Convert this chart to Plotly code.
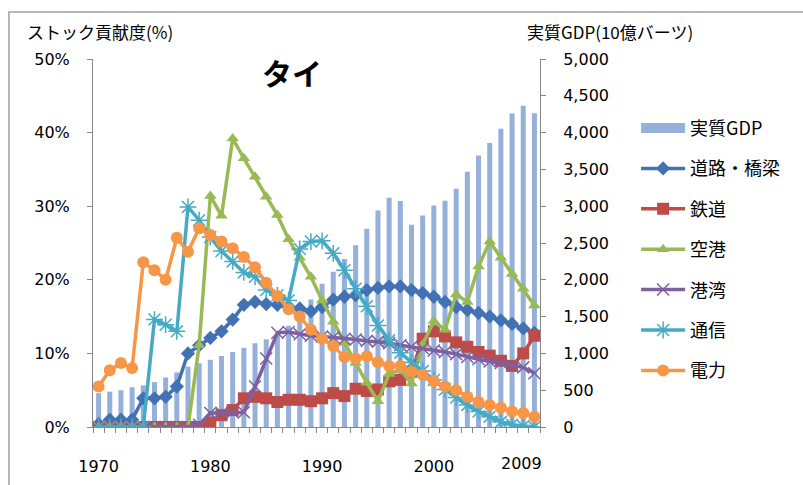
import plotly.graph_objects as go

years = list(range(1970, 2010))

gdp = [460, 480, 500, 540, 565, 610, 673, 741, 820, 866,
       913, 965, 1019, 1076, 1138, 1191, 1257, 1376, 1560, 1732,
       1945, 2111, 2283, 2471, 2693, 2941, 3115, 3072, 2749, 2872,
       3008, 3074, 3237, 3469, 3689, 3858, 4054, 4260, 4364, 4263]

road = [0.4, 1.0, 1.0, 1.0, 3.9, 3.9, 4.1, 5.5, 10.0, 11.1,
        12.1, 13.0, 14.6, 16.6, 17.0, 16.7, 16.6, 16.3, 16.1, 15.7,
        16.3, 17.3, 17.7, 17.9, 18.6, 18.9, 19.1, 19.1, 18.6, 18.2,
        17.7, 17.0, 16.3, 15.9, 15.5, 15.0, 14.5, 14.0, 13.4, 12.8]

rail = [0, 0, 0, 0, 0, 0, 0, 0, 0, 0,
        0.6, 1.6, 2.3, 3.9, 4.1, 3.9, 3.4, 3.7, 3.7, 3.5,
        3.9, 4.6, 4.2, 5.2, 4.9, 5.1, 6.2, 6.4, 7.5, 12.0,
        13.0, 12.3, 11.5, 10.9, 10.2, 9.7, 9.0, 8.3, 10.0, 12.4]

airport = [0, 0, 0, 0, 0, 0, 0, 0, 0, 11.1,
           31.4, 28.7, 39.2, 36.5, 34.0, 31.3, 28.8, 25.5, 23.0, 20.4,
           17.2, 14.3, 11.4, 8.7, 6.0, 3.5, 7.2, 7.8, 5.9, 11.2,
           14.4, 13.2, 18.0, 17.0, 21.8, 25.2, 23.0, 20.8, 18.8, 16.5]

port = [0, 0, 0, 0, 0, 0, 0, 0, 0, 0.3,
        1.9, 1.9, 2.0, 2.0, 5.5, 9.3, 12.8, 12.9, 12.6, 12.4,
        12.3, 12.2, 12.0, 11.9, 11.7, 11.6, 11.4, 11.1, 10.9, 10.7,
        10.4, 10.2, 9.9, 9.5, 9.2, 8.9, 8.7, 8.4, 8.1, 7.3]

telecom = [0, 0, 0, 0, 0, 14.6, 13.9, 13.0, 29.9, 28.1,
           25.8, 23.9, 22.5, 21.0, 20.4, 18.6, 17.9, 17.2, 24.2, 25.2,
           25.3, 23.6, 21.3, 18.8, 16.4, 13.8, 11.8, 10.1, 8.8, 7.6,
           6.4, 5.1, 4.0, 3.0, 2.1, 1.4, 0.7, 0.3, 0.1, 0.0]

power = [5.5, 7.7, 8.7, 8.0, 22.4, 21.3, 20.0, 25.7, 23.8, 27.0,
         26.1, 25.2, 24.3, 23.1, 21.7, 19.6, 17.8, 16.0, 15.0, 13.2,
         12.0, 11.0, 9.5, 9.3, 9.6, 8.8, 8.3, 8.3, 7.5, 7.1,
         6.2, 5.5, 5.0, 4.1, 3.4, 3.0, 2.6, 2.1, 1.9, 1.4]

x_tickvals = [1970, 1980, 1990, 2000]
x_ticktext = ["1970", "1980", "1990", "2000"]

JP = "Noto Sans CJK JP"
NUM = "DejaVu Sans"
AXIS_COLOR = "#868686"
BAR_COLOR = "#95B1DA"

fig = go.Figure()

fig.add_trace(go.Bar(
    x=years, y=gdp, name="実質GDP", yaxis="y",
    marker=dict(color=BAR_COLOR, line=dict(width=0)),
    showlegend=False,
))
# legend swatch for the bars (wide rectangle as in the original)
fig.add_trace(go.Scatter(
    x=[None], y=[None], name="実質GDP", yaxis="y", mode="lines",
    line=dict(color=BAR_COLOR, width=10), legendgroup="g0",
))

line_specs = [
    ("道路・橋梁", road, "#4372B4", dict(symbol="diamond", size=11, color="#4372B4")),
    ("鉄道", rail, "#BE4B48", dict(symbol="square", size=12, color="#BE4B48")),
    ("空港", airport, "#98B954", dict(symbol="triangle-up", size=11, color="#98B954")),
    ("港湾", port, "#7D60A0", dict(symbol="x-thin-open", size=12,
                                  line=dict(color="#A08BC4", width=1.5))),
    ("通信", telecom, "#46AAC5", dict(symbol="asterisk-open", size=14,
                                     line=dict(color="#6CC3DA", width=1.5))),
    ("電力", power, "#F79646", dict(symbol="circle", size=12, color="#F79646")),
]

for i, (name, vals, col, mk) in enumerate(line_specs):
    fig.add_trace(go.Scatter(
        x=years, y=vals, name=name, yaxis="y2", mode="lines+markers",
        line=dict(color=col, width=3.5), marker=mk, legendgroup="g%d" % (i + 1),
    ))

fig.update_layout(
    width=803, height=485,
    margin=dict(l=93, r=263, t=59, b=58, autoexpand=False),
    paper_bgcolor="white", plot_bgcolor="white",
    font=dict(family=JP, size=16, color="#000000"),
    showlegend=True,
    bargap=0.55,
    legend=dict(
        x=1.215, y=0.862, xanchor="left", yanchor="top",
        font=dict(family=JP, size=18, color="#000000"),
        tracegroupgap=14, itemwidth=44, bgcolor="rgba(0,0,0,0)",
    ),
    xaxis=dict(
        range=[1969.5, 2009.5], automargin=False,
        tickmode="array", tickvals=x_tickvals, ticktext=x_ticktext,
        ticks="", showgrid=False, zeroline=False,
        showline=True, linecolor=AXIS_COLOR, linewidth=1,
        tickfont=dict(family=NUM, size=16, color="#000000"),
        ticklabelstandoff=25,
        minor=dict(tickmode="linear", tick0=1969.5, dtick=1, ticks="outside",
                   ticklen=5, tickcolor=AXIS_COLOR, showgrid=False),
    ),
    yaxis=dict(
        side="right", range=[0, 5000], dtick=500, tickformat=",d",
        automargin=False,
        ticks="outside", ticklen=5, tickcolor=AXIS_COLOR,
        showline=True, linecolor=AXIS_COLOR, linewidth=1,
        showgrid=False, zeroline=False,
        tickfont=dict(family=NUM, size=16, color="#000000"),
        ticklabelstandoff=14,
    ),
    yaxis2=dict(
        side="left", overlaying="y", range=[0, 50], dtick=10,
        ticksuffix="%", automargin=False,
        ticks="outside", ticklen=5, tickcolor=AXIS_COLOR,
        showline=True, linecolor=AXIS_COLOR, linewidth=1,
        showgrid=False, zeroline=False,
        tickfont=dict(family=NUM, size=16, color="#000000"),
        ticklabelstandoff=14,
    ),
)

fig.add_annotation(
    text="<b>タイ</b>", xref="paper", yref="paper", x=0.445, y=0.965,
    xanchor="center", yanchor="middle", showarrow=False,
    font=dict(family=JP, size=30, color="#000000"),
)
fig.add_annotation(
    text="ストック貢献度(%)", xref="paper", yref="paper", x=-0.152, y=1.076,
    xanchor="left", yanchor="middle", showarrow=False,
    font=dict(family=JP, size=17, color="#000000"),
)
fig.add_annotation(
    text="実質GDP(10億バーツ)", xref="paper", yref="paper", x=1.1566, y=1.076,
    xanchor="center", yanchor="middle", showarrow=False,
    font=dict(family=JP, size=17, color="#000000"),
)
fig.add_annotation(
    text="2009", xref="x", yref="paper", x=2009, xshift=-13, y=-0.10,
    xanchor="center", yanchor="middle", showarrow=False,
    font=dict(family=NUM, size=16, color="#000000"),
)

# chart-area border
fig.add_shape(type="rect", xref="paper", yref="paper",
              x0=-0.188, x1=1.70, y0=-0.30, y1=1.1277,
              line=dict(color="#A0A0A0", width=1.5), fillcolor="rgba(0,0,0,0)",
              layer="below")

fig.write_html(
    "out.html",
    config={"displayModeBar": False},
    post_script="document.body.style.margin='0';document.body.style.padding='0';",
)
